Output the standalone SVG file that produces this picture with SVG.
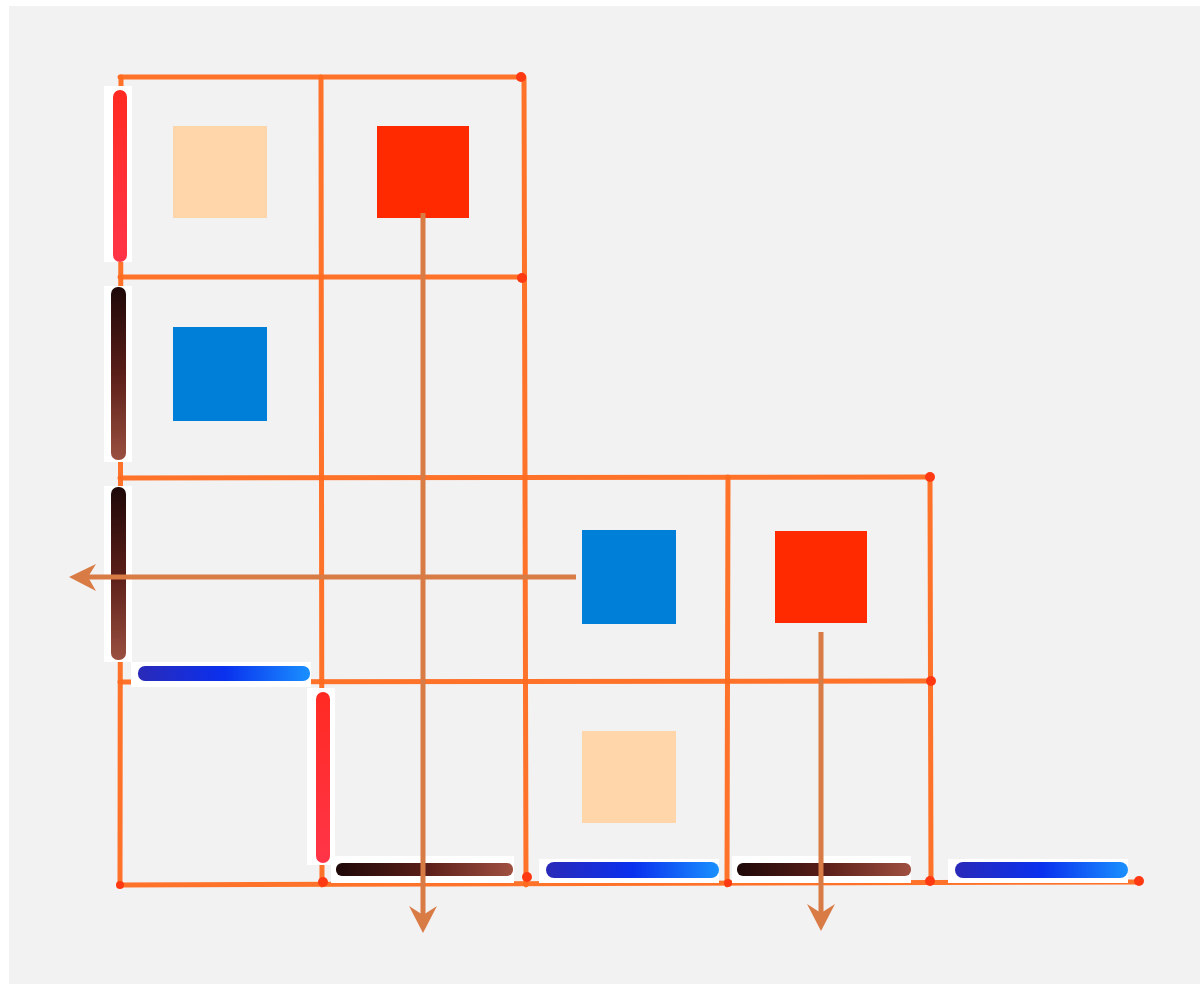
<svg xmlns="http://www.w3.org/2000/svg" width="1200" height="984" viewBox="0 0 1200 984">
<defs>
<style>
.grid{stroke:#ff6a1f;stroke-width:5;stroke-linecap:round;fill:none;opacity:0.95}
.dot{fill:#ff3a12}
.conn{stroke:#d97b45;stroke-width:5;fill:none}
.head{fill:#d97b45}
.pad{fill:#ffffff}
.peach{fill:#ffd5aa}
.red{fill:#ff2a00}
.blue{fill:#007fd8}
</style>
<linearGradient id="gRedV" x1="0" y1="0" x2="0" y2="1"><stop offset="0" stop-color="#ff2a22"/><stop offset="1" stop-color="#ff3548"/></linearGradient>
<linearGradient id="gBrV" x1="0" y1="0" x2="0" y2="1"><stop offset="0" stop-color="#1e0808"/><stop offset="0.5" stop-color="#5a1e18"/><stop offset="1" stop-color="#9a5040"/></linearGradient>
<linearGradient id="gBrH" x1="0" y1="0" x2="1" y2="0"><stop offset="0" stop-color="#1e0808"/><stop offset="0.5" stop-color="#5a1e18"/><stop offset="1" stop-color="#a05040"/></linearGradient>
<linearGradient id="gBlH" x1="0" y1="0" x2="1" y2="0"><stop offset="0" stop-color="#2a2ab8"/><stop offset="0.5" stop-color="#0a30ee"/><stop offset="1" stop-color="#1a90ff"/></linearGradient>
</defs>
<rect x="0" y="0" width="1200" height="984" fill="#ffffff"/>
<rect x="9" y="6" width="1191" height="978" fill="#f3f2f2"/>
<g id="grid">
<line class="grid" x1="120" y1="77" x2="521" y2="77"/>
<line class="grid" x1="120" y1="277" x2="521" y2="277"/>
<line class="grid" x1="120" y1="478" x2="930" y2="477"/>
<line class="grid" x1="120" y1="682" x2="930" y2="681"/>
<line class="grid" x1="120" y1="885" x2="1138" y2="882"/>
<line class="grid" x1="121" y1="77" x2="120" y2="885"/>
<line class="grid" x1="321" y1="77" x2="322" y2="885"/>
<line class="grid" x1="524" y1="77" x2="526" y2="885"/>
<line class="grid" x1="728" y1="477" x2="727" y2="885"/>
<line class="grid" x1="930" y1="477" x2="931" y2="883"/>
<circle class="dot" cx="521" cy="77" r="5"/>
<circle class="dot" cx="522" cy="278" r="5"/>
<circle class="dot" cx="930" cy="477" r="5"/>
<circle class="dot" cx="931" cy="681" r="5"/>
<circle class="dot" cx="930" cy="881" r="5"/>
<circle class="dot" cx="1139" cy="881" r="5"/>
<circle class="dot" cx="527" cy="877" r="5"/>
<circle class="dot" cx="323" cy="882" r="5"/>
<circle class="dot" cx="120" cy="885" r="4"/>
<circle class="dot" cx="728" cy="883" r="4"/>
</g>
<g id="strips">
<rect class="pad" x="104" y="86" width="28" height="176"/>
<rect x="113" y="90" width="14" height="172" rx="7" fill="url(#gRedV)"/>
<rect class="pad" x="104" y="286" width="28" height="176"/>
<rect x="111" y="287" width="15" height="173" rx="7" fill="url(#gBrV)"/>
<rect class="pad" x="104" y="486" width="28" height="176"/>
<rect x="111" y="487" width="15" height="173" rx="7" fill="url(#gBrV)"/>
<rect class="pad" x="131" y="662" width="180" height="25"/>
<rect x="138" y="666" width="172" height="15" rx="7" fill="url(#gBlH)"/>
<rect class="pad" x="307" y="688" width="28" height="177"/>
<rect x="316" y="692" width="14" height="171" rx="7" fill="url(#gRedV)"/>
<rect class="pad" x="331" y="856" width="183" height="27"/>
<rect x="336" y="863" width="177" height="13" rx="6" fill="url(#gBrH)"/>
<rect class="pad" x="539" y="859" width="180" height="24"/>
<rect x="546" y="862" width="173" height="16" rx="8" fill="url(#gBlH)"/>
<rect class="pad" x="732" y="856" width="179" height="27"/>
<rect x="737" y="863" width="174" height="13" rx="6" fill="url(#gBrH)"/>
<rect class="pad" x="948" y="859" width="180" height="24"/>
<rect x="955" y="862" width="173" height="16" rx="8" fill="url(#gBlH)"/>
</g>
<g id="n-peach-1"><rect class="peach" x="173" y="126" width="94" height="92"/></g>
<g id="n-red-1"><rect class="red" x="377" y="126" width="92" height="92"/></g>
<g id="n-blue-1"><rect class="blue" x="173" y="327" width="94" height="94"/></g>
<g id="n-blue-2"><rect class="blue" x="582" y="530" width="94" height="94"/></g>
<g id="n-red-2"><rect class="red" x="775" y="531" width="92" height="92"/></g>
<g id="n-peach-2"><rect class="peach" x="582" y="731" width="94" height="92"/></g>
<g id="connectors">
<line class="conn" x1="423" y1="213" x2="423" y2="915"/>
<polygon class="head" points="409,906 423,915 437,906 423,933"/>
<line class="conn" x1="576" y1="577" x2="88" y2="577"/>
<polygon class="head" points="96,564 88,577 96,591 69,577"/>
<line class="conn" x1="821" y1="632" x2="821" y2="913"/>
<polygon class="head" points="807,904 821,913 835,904 821,931"/>
</g>
</svg>
